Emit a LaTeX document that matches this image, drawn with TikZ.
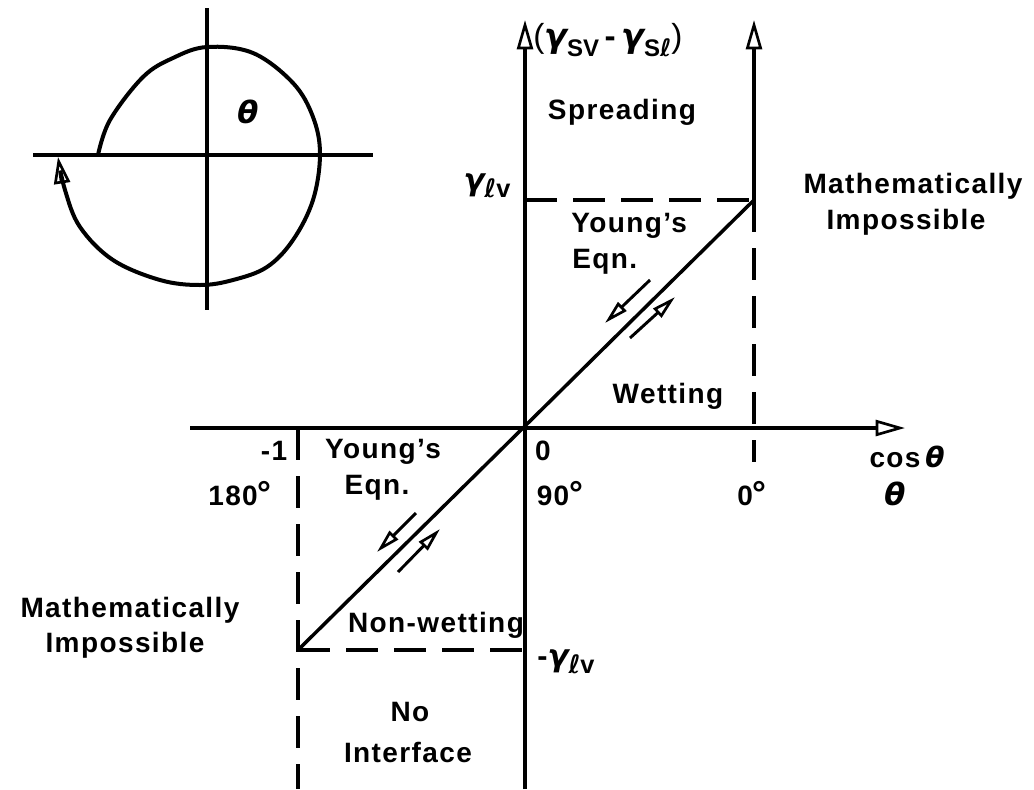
\documentclass[tikz,border=0pt]{standalone}
\usepackage{fontspec}
\setmainfont{Liberation Sans}
\newfontfamily\gk{DejaVu Sans}
\usetikzlibrary{arrows.meta}
\newcommand\gm{{\gk\bfseries\itshape γ}}
\newcommand\tht{{\gk\bfseries\itshape θ}}
\newcommand\myell{{\gk\bfseries\itshape ℓ}}
\newcommand\dg{{\fontsize{26}{26}\selectfont °}}
\begin{document}
\begin{tikzpicture}[x=0.75pt,y=-0.75pt,
  axis/.style={line width=2.8pt},
  dsh/.style={line width=2.8pt,dash pattern=on 24pt off 12pt},
  bigarrow/.style={-{Triangle[open,length=22pt,width=12pt,line width=2pt]}},
  smallarrow/.style={line width=2.2pt,-{Triangle[open,length=18pt,width=9pt,line width=2pt]}},
  lbl/.style={font=\fontsize{21}{25}\selectfont\bfseries\addfontfeature{LetterSpace=5}, inner sep=0pt},
  gl/.style={font=\fontsize{23}{26}\selectfont, inner sep=0pt}]
\useasboundingbox (0,0) rectangle (1034,789);
% inset circle
\coordinate (cT) at (207,8); \coordinate (cB) at (207,310);
\coordinate (cL) at (33,155); \coordinate (cR) at (373,155);
\draw[axis] (cT) -- (cB);
\draw[axis] (cL) -- (cR);
\draw[line width=3pt,-{Triangle[open,length=20pt,width=12pt,line width=2pt]}] plot[smooth, tension=0.6] coordinates {(98,155) (110,120) (143,77) (173,58) (207,47) (253,53) (293,83) (313,117) (320,154) (313,200) (293,240) (267,267) (233,280) (200,285) (160,280) (113,260) (80,227) (65,190) (58,157)};
\node[gl] (thc) at (248,112) {\tht};
% main axes
\coordinate (O) at (525,428);
\coordinate (ytop) at (525,20); \coordinate (ybot) at (525,789);
\coordinate (xleft) at (190,428); \coordinate (xright) at (905,428);
\draw[axis,bigarrow] (ybot) -- (ytop);
\draw[axis,bigarrow] (xleft) -- (xright);
% right boundary
\coordinate (P) at (754,200); \coordinate (Rtop) at (754,20); \coordinate (Rbot) at (754,462);
\draw[axis,bigarrow] (P) -- (Rtop);
\draw[dsh] (P) -- (Rbot);
\coordinate (Pl) at (525,200);
\draw[dsh] (Pl) -- (P);
% left boundary
\coordinate (Q) at (298,650); \coordinate (Qtop) at (298,428); \coordinate (Qbot) at (298,789);
\coordinate (Qr) at (525,650);
\draw[dsh] (Qtop) -- (Qbot);
\draw[dsh] (Q) -- (Qr);
% diagonal
\draw[line width=2.6pt] (Q) -- (P);
% small arrows
\coordinate (a1s) at (650,280); \coordinate (a1e) at (605,323);
\coordinate (a2s) at (630,338); \coordinate (a2e) at (675,297);
\coordinate (a3s) at (416,513); \coordinate (a3e) at (377,552);
\coordinate (a4s) at (398,572); \coordinate (a4e) at (440,529);
\draw[smallarrow] (a1s) -- (a1e);
\draw[smallarrow] (a2s) -- (a2e);
\draw[smallarrow] (a3s) -- (a3e);
\draw[smallarrow] (a4s) -- (a4e);
% labels
\node[anchor=west, inner sep=0pt] (ylab) at (533,40) {\fontsize{25}{28}\selectfont(\gm\raisebox{-0.5ex}{\fontsize{18}{20}\selectfont\bfseries SV}\,{\bfseries -}\,\gm\raisebox{-0.5ex}{\fontsize{18}{20}\selectfont\bfseries S\myell})};
\node[lbl] (spread) at (622,112) {Spreading};
\node[gl] (glv) at (487,186) {\gm\raisebox{-0.4ex}{\fontsize{19}{20}\selectfont\myell{\bfseries v}}};
\node[lbl] (mi1) at (913,186) {Mathematically};
\node[lbl] (mi2) at (906,222) {Impossible};
\node[lbl,anchor=west] (ye1) at (571,226) {Young's};
\node[lbl,anchor=west] (ye2) at (572,262) {Eqn.};
\node[lbl] (wet) at (668,396) {Wetting};
\node[lbl] (m1) at (274,451) {-1};
\node[lbl] (d180) at (240,494) {180\dg};
\node[lbl] (z0) at (543,451) {0};
\node[lbl] (d90) at (560,494) {90\dg};
\node[lbl] (d0) at (752,494) {0\dg};
\node[lbl] (cos) at (907,457) {cos\,\tht};
\node[gl] (thx) at (895,494) {\tht};
\node[lbl] (ye3) at (383,452) {Young's};
\node[lbl] (ye4) at (377,488) {Eqn.};
\node[lbl] (ml1) at (130,610) {Mathematically};
\node[lbl] (ml2) at (125,645) {Impossible};
\node[lbl] (nw) at (436,625) {Non-wetting};
\node[gl] (nglv) at (566,662) {{\bfseries -}\gm\raisebox{-0.4ex}{\fontsize{19}{20}\selectfont\myell{\bfseries v}}};
\node[lbl] (no) at (410,712) {No};
\node[lbl] (intf) at (408,752) {Interface};
\end{tikzpicture}
\end{document}
